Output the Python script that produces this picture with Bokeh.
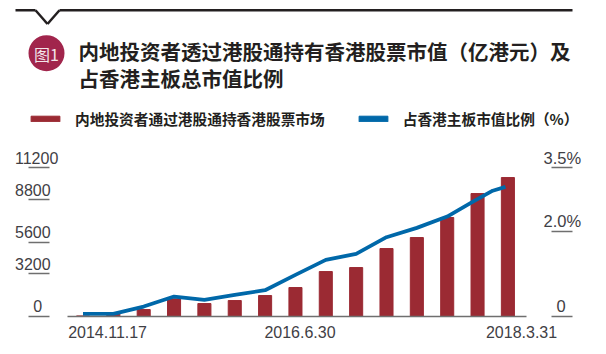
from bokeh.plotting import figure
from bokeh.models import (Range1d, LinearAxis, FixedTicker, Label, Legend, LegendItem,
                          BoxAnnotation, Arrow)
from bokeh.embed import file_html
from bokeh.resources import INLINE

title_lines = ["内地投资者透过港股通持有香港股票市值（亿港元）及", "占香港主板总市值比例"]
badge_text = "图1"
bar_name = "内地投资者通过港股通持香港股票市场"
line_name = "占香港主板市值比例（%）"

bar_x = list(range(15))
bar_values = [10, 176, 503, 1308, 956, 1182, 1560, 2164, 3371, 3673, 5107, 5937, 7447, 9258, 10465]
line_x = [0, 1, 2, 3, 4, 5, 6, 7, 8, 9, 10, 11, 12, 12.85, 13.5, 13.92]
line_values = [0.055, 0.055, 0.228, 0.464, 0.385, 0.503, 0.613, 0.975, 1.329, 1.47, 1.863, 2.083,
               2.35, 2.70, 2.96, 3.05]

left_ticks = [0, 3200, 5600, 8800, 11200]
left_labels = ["0", "3200", "5600", "8800", "11200"]
right_ticks = [0, 2.0, 3.5]
right_labels = ["0", "2.0%", "3.5%"]
x_ticks = [0.81, 7.15, 14.45]
x_labels = ["2014.11.17", "2016.6.30", "2018.3.31"]

W, H = 606, 354
FONT_CJK = "Noto Sans CJK SC"
FONT_NUM = "Liberation Sans"
DARK = "#231f20"
TEXT = "#3f4045"
AXIS = "#6f6f6f"
RED = "#9b2a33"
BLUE = "#0068a9"

PX_X = 30.35           # pixels per bar slot
X0 = 82.5              # pixel of the first slot
PX_Y = 0.01325         # pixels per unit of the left axis
Y0 = 315.7             # pixel of the baseline
x_start, x_end = -X0 / PX_X, (W - X0) / PX_X
y_end, y_start = Y0 / PX_Y, -(H - Y0) / PX_Y
PCT = 3.5 / 11200

p = figure(width=W, height=H, output_backend="svg", toolbar_location=None,
           x_range=Range1d(x_start, x_end), y_range=Range1d(y_start, y_end),
           x_axis_type=None, y_axis_type=None,
           min_border=0, outline_line_color=None,
           background_fill_color="white", border_fill_color="white")
p.grid.visible = False
p.extra_y_ranges = {"pct": Range1d(y_start * PCT, y_end * PCT)}


def sy(Y):
    return H - Y


def style_ticks(ax, ticks):
    ax.ticker = FixedTicker(ticks=ticks)
    ax.major_label_overrides = {t: "" for t in ticks}
    ax.axis_line_color = None
    ax.minor_tick_line_color = None
    ax.major_tick_in = 0
    ax.major_tick_out = 21
    ax.major_tick_line_color = AXIS
    ax.major_tick_line_width = 1.4


left = LinearAxis(fixed_location=(49 - X0) / PX_X)
style_ticks(left, left_ticks)
p.add_layout(left, "left")
right = LinearAxis(y_range_name="pct", fixed_location=(551 - X0) / PX_X)
style_ticks(right, right_ticks)
p.add_layout(right, "right")

below = LinearAxis(bounds=(-0.5, 14.6), fixed_location=0)
below.ticker = FixedTicker(ticks=x_ticks)
below.major_label_overrides = dict(zip(x_ticks, x_labels))
below.major_tick_in = 0
below.major_tick_out = 0
below.minor_tick_line_color = None
below.axis_line_color = AXIS
below.axis_line_width = 1.4
below.major_label_standoff = 10
below.major_label_text_font = FONT_NUM
below.major_label_text_font_size = "16px"
below.major_label_text_color = TEXT
p.add_layout(below, "below")

bars = p.vbar(x=bar_x, top=bar_values, width=0.43, color=RED)
p.line(x=line_x, y=line_values, y_range_name="pct", line_color=BLUE, line_width=3.8,
       line_join="round")
nan = float("nan")
swatch = p.vbar(x=[nan], top=[nan], width=0.43, color=BLUE)

legend = Legend(items=[LegendItem(label=bar_name, renderers=[bars]),
                       LegendItem(label=line_name, renderers=[swatch])],
                orientation="horizontal", location=(27, sy(129)),
                background_fill_alpha=0, border_line_color=None,
                padding=0, margin=0, spacing=30, label_standoff=12,
                glyph_width=36, glyph_height=7, label_height=14,
                label_text_font=FONT_CJK, label_text_font_style="bold",
                label_text_font_size="14.7px", label_text_color=DARK)
p.add_layout(legend, "center")

# tick labels sit above their short tick marks
for t, s, X in zip(left_ticks, left_labels, [32.7, 14.5, 14.5, 14.5, 14.5]):
    p.add_layout(Label(x=X, y=t, x_units="screen", y_units="data", text=s, y_offset=10,
                       text_font=FONT_NUM, text_font_size="16px", text_color=TEXT,
                       text_align="left", text_baseline="alphabetic"))
for t, s, X in zip(right_ticks, right_labels, [556, 543, 543]):
    p.add_layout(Label(x=X, y=t, x_units="screen", y_units="data", y_range_name="pct",
                       text=s, y_offset=10, text_font=FONT_NUM, text_font_size="16.5px",
                       text_color=TEXT, text_align="left", text_baseline="alphabetic"))

# header rule with notch
rule = [(15, 9.7), (35, 9.7), (47, 23.5), (59, 9.7), (572, 9.7)]
for (x0, y0), (x1, y1) in zip(rule[:-1], rule[1:]):
    p.add_layout(Arrow(end=None, start=None, x_start=x0, y_start=sy(y0), x_end=x1, y_end=sy(y1),
                       start_units="screen", end_units="screen",
                       line_color=DARK, line_width=2.5))

# badge
p.add_layout(BoxAnnotation(left=28, right=64, top=sy(34.7), bottom=sy(70.7),
                           left_units="screen", right_units="screen",
                           top_units="screen", bottom_units="screen",
                           fill_color="#a1254c", fill_alpha=1, line_color=None,
                           border_radius=18))
p.add_layout(Label(x=46, y=sy(53), x_units="screen", y_units="screen", text=badge_text,
                   text_font=FONT_CJK, text_font_size="16px", text_color="#f3e6ea",
                   text_align="center", text_baseline="middle"))

for s, Y in zip(title_lines, [50, 77]):
    p.add_layout(Label(x=78, y=sy(Y), x_units="screen", y_units="screen", text=s,
                       text_font=FONT_CJK, text_font_style="bold", text_font_size="20.5px",
                       text_color=DARK, text_align="left", text_baseline="middle"))

open("out.html", "w").write(file_html(p, INLINE))
